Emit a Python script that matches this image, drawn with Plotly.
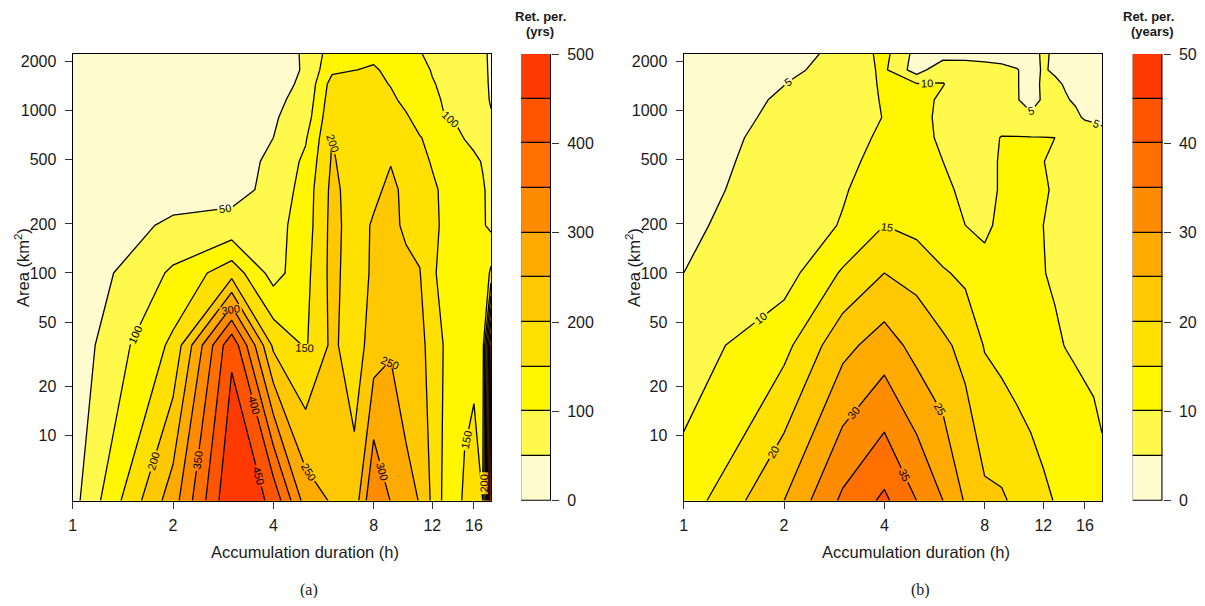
import numpy as np
import plotly.graph_objects as go

# ---------------- data ----------------
durations = list(range(1, 19))                      # h
areas = [4, 36, 100, 196, 324, 484, 676, 900, 1156, 1444, 1764, 2209]   # km2

# return period (yrs), rows = areas (bottom -> top), cols = durations
ret_a = [
    [32, 277, 498, 438, 278, 245, 220, 350, 298, 265, 248, 190, 140, 125, 160, 175, 150, 499],
    [18, 161, 440, 190, 145, 210, 175, 223, 245, 225, 215, 180, 148, 125, 130, 135, 125, 450],
    [10, 108, 180, 80, 135, 215, 175, 208, 220, 215, 202, 160, 130, 120, 118, 115, 110, 160],
    [5, 60, 65, 80, 125, 215, 180, 205, 215, 190, 185, 165, 140, 125, 118, 110, 105, 90],
    [3, 25, 35, 62, 122, 212, 180, 190, 210, 190, 180, 160, 140, 125, 115, 105, 103, 92],
    [2, 15, 28, 60, 110, 205, 178, 185, 198, 185, 168, 145, 130, 120, 112, 106, 98, 85],
    [2, 10, 22, 50, 95, 200, 175, 178, 175, 165, 152, 140, 125, 108, 99, 92, 85, 65],
    [2, 8, 18, 45, 75, 190, 180, 180, 170, 155, 135, 120, 101, 98, 90, 82, 75, 55],
    [2, 6, 15, 40, 65, 180, 178, 172, 158, 140, 122, 108, 97, 90, 82, 75, 68, 45],
    [2, 5, 12, 35, 58, 170, 175, 162, 148, 130, 115, 102, 95, 88, 80, 74, 70, 40],
    [2, 4, 10, 32, 54, 140, 149, 155, 140, 125, 110, 98, 90, 84, 78, 72, 68, 38],
    [2, 4, 8, 30, 55, 125, 135, 140, 130, 118, 102, 92, 86, 80, 75, 70, 66, 36],
]

# return period (years), panel b
ret_b = [
    [12, 25, 36, 41, 35, 30, 24.5, 21, 20.6, 19, 17.5, 16, 14.8, 14, 13.3, 12.6, 12, 11],
    [7.5, 13.5, 23.5, 27.4, 23.3, 21, 18.5, 14.7, 13.5, 12.5, 11.8, 11.2, 10.5, 9.9, 9.5, 9.2, 9, 8.7],
    [5, 7.9, 15.6, 20, 18.5, 15.5, 14, 11.2, 11.5, 11.2, 10.6, 10.1, 9.6, 9.2, 8.8, 8.4, 8, 7.6],
    [4.8, 5.6, 10.5, 15, 13.5, 11.5, 10, 9.3, 10.8, 11, 10.6, 10.0, 9.4, 8.8, 8.3, 7.9, 7.5, 7],
    [4.0, 6.4, 9.4, 13.5, 12.5, 11, 9, 8.5, 10.5, 11, 10.8, 10.3, 9.7, 9, 8.5, 8, 7.5, 7],
    [3.5, 6.4, 7.7, 13, 11.5, 10, 8.5, 8.2, 10.6, 11, 10.7, 10.05, 9.5, 8.9, 8.4, 7.9, 7.4, 6.9],
    [3, 6.3, 6.6, 11.5, 10.8, 9.6, 8.5, 8.5, 10.2, 10.3, 10.2, 10.15, 10.0, 9, 8, 7, 6.5, 6],
    [2.8, 5.8, 7, 10.2, 11, 9.3, 8, 7.5, 7.8, 5.8, 5.3, 5.6, 6.8, 6.5, 5.5, 4.7, 4.5, 4.3],
    [2.6, 5.45, 7.3, 10.4, 11, 9.5, 8.5, 7.5, 6.5, 5.1, 4.4, 5.2, 5.8, 5.2, 4.7, 4.3, 4, 3.8],
    [2.4, 4.95, 7.7, 10.5, 10.3, 10.1, 8.5, 7.5, 6.5, 5.1, 4.3, 5.3, 5.4, 4.8, 4.3, 4, 3.8, 3.6],
    [2.2, 3.8, 7, 10.8, 2.6, 9, 8, 6.5, 5.6, 5.1, 4.3, 5.2, 4.7, 4.4, 4.1, 3.8, 3.5, 3.2],
    [2, 3.5, 6, 11.44, 3.3, 2.5, 3, 3.5, 4, 4, 3.8, 5.5, 4.5, 4, 3.6, 3.3, 3, 2.8],
]

levels_a = list(range(0, 501, 50))
levels_b = list(range(0, 51, 5))
band_colors = ['#FFFBCE', '#FFF94C', '#FFF600', '#FFE000', '#FFC800',
               '#FFAA00', '#FF8C00', '#FF7000', '#FF5500', '#FF3A00']
x_ticks = [1, 2, 4, 8, 12, 16]
y_ticks = [10, 20, 50, 100, 200, 500, 1000, 2000]
cb_ticks_a = [0, 100, 200, 300, 400, 500]
cb_ticks_b = [0, 10, 20, 30, 40, 50]

# ---------------- helpers ----------------
# page body has an 8px margin: figure is placed at (8, 8) in the window
OFF = 8
W, H = 1205 - 2 * OFF, 606 - 2 * OFF
def fx(px):
    return (px - OFF) / W
def fy(py):
    return 1 - (py - OFF) / H

n = len(band_colors)
colorscale = []
for k, c in enumerate(band_colors):
    colorscale.append([k / n, c])
    colorscale.append([(k + 1) / n, c])

lx = np.log10(durations)
ly = np.log10(areas)

FONT = "Liberation Sans, Arial, sans-serif"
TXT = "#1a1a1a"

fig = go.Figure()

def add_panel(z, levels, xa, ya):
    step = levels[1] - levels[0]
    fig.add_trace(go.Contour(
        x=lx, y=ly, z=z, xaxis=xa, yaxis=ya,
        colorscale=colorscale, showscale=False,
        contours=dict(start=levels[1], end=levels[-2], size=step,
                      coloring='fill', showlabels=True,
                      labelfont=dict(size=11, color='black', family=FONT)),
        line=dict(color='black', width=1.3, smoothing=0),
        hoverinfo='skip'))

def add_key(levels, xa, ya):
    step = levels[1] - levels[0]
    fig.add_trace(go.Bar(
        x=[0] * (len(levels) - 1), y=[step] * (len(levels) - 1),
        base=levels[:-1], width=1,
        marker=dict(color=band_colors, line=dict(color='black', width=1.3)),
        xaxis=xa, yaxis=ya, showlegend=False, hoverinfo='skip'))

add_panel(ret_a, levels_a, 'x', 'y')
add_key(levels_a, 'x2', 'y2')
add_panel(ret_b, levels_b, 'x3', 'y3')
add_key(levels_b, 'x4', 'y4')

ydom = [fy(500.7), fy(54)]
xr = [np.log10(1), np.log10(18)]
yr = [np.log10(4), np.log10(2209)]

def main_x(dom, anchor):
    return dict(domain=dom, range=xr, anchor=anchor, automargin=False,
                tickvals=list(np.log10(x_ticks)), ticktext=[str(t) for t in x_ticks],
                ticks='outside', ticklen=7, tickwidth=1, tickcolor='#333',
                showline=True, linecolor='black', linewidth=1.3, mirror=True,
                showgrid=False, zeroline=False,
                tickfont=dict(family=FONT, size=16, color=TXT), ticklabelstandoff=3)

def main_y(anchor):
    return dict(domain=ydom, range=yr, anchor=anchor, automargin=False,
                tickvals=list(np.log10(y_ticks)), ticktext=[str(t) for t in y_ticks],
                ticks='outside', ticklen=7, tickwidth=1, tickcolor='#333',
                showline=True, linecolor='black', linewidth=1.3, mirror=True,
                showgrid=False, zeroline=False,
                tickfont=dict(family=FONT, size=16, color=TXT), ticklabelstandoff=5)

def key_x(dom, anchor):
    return dict(domain=dom, range=[-0.5, 0.5], anchor=anchor, visible=False, automargin=False)

def key_y(levels, ticks, anchor):
    return dict(domain=ydom, range=[levels[0], levels[-1]], anchor=anchor, side='right',
                automargin=False,
                tickvals=ticks, ticks='outside', ticklen=7, tickwidth=1, tickcolor='#333',
                showline=False, showgrid=False, zeroline=False,
                tickfont=dict(family=FONT, size=16, color=TXT), ticklabelstandoff=5)

fig.update_layout(
    width=W, height=H, margin=dict(l=0, r=0, t=0, b=0, autoexpand=False),
    paper_bgcolor='white', plot_bgcolor='white', showlegend=False,
    bargap=0,
    xaxis=main_x([fx(72.7), fx(491)], 'y'),
    yaxis=main_y('x'),
    xaxis2=key_x([fx(521.3), fx(551)], 'y2'),
    yaxis2=key_y(levels_a, cb_ticks_a, 'x2'),
    xaxis3=main_x([fx(683.7), fx(1102)], 'y3'),
    yaxis3=main_y('x3'),
    xaxis4=key_x([fx(1132.7), fx(1162.7)], 'y4'),
    yaxis4=key_y(levels_b, cb_ticks_b, 'x4'),
)

ann = []
def text(x, y, s, size=15, bold=False, family=FONT, angle=0, xanchor='center'):
    ann.append(dict(x=fx(x), y=fy(y), xref='paper', yref='paper', text=(f"<b>{s}</b>" if bold else s),
                    showarrow=False, textangle=angle, xanchor=xanchor, yanchor='middle',
                    font=dict(family=family, size=size, color=TXT)))

text(305, 552, "Accumulation duration (h)", size=16.5)
text(916, 552, "Accumulation duration (h)", size=16.5)
text(22, 268, "Area (km<sup>2</sup>)", size=16.5, angle=-90)
text(633, 268, "Area (km<sup>2</sup>)", size=16.5, angle=-90)
text(309, 590, "(a)", size=16, family="Liberation Serif, DejaVu Serif, serif")
text(920, 590, "(b)", size=16, family="Liberation Serif, DejaVu Serif, serif")
text(540, 16, "Ret. per.", size=13, bold=True)
text(540, 31, "(yrs)", size=13, bold=True)
text(1148, 16, "Ret. per.", size=13, bold=True)
text(1152, 31, "(years)", size=13, bold=True)
fig.update_layout(annotations=ann)

fig.write_html("out.html")
